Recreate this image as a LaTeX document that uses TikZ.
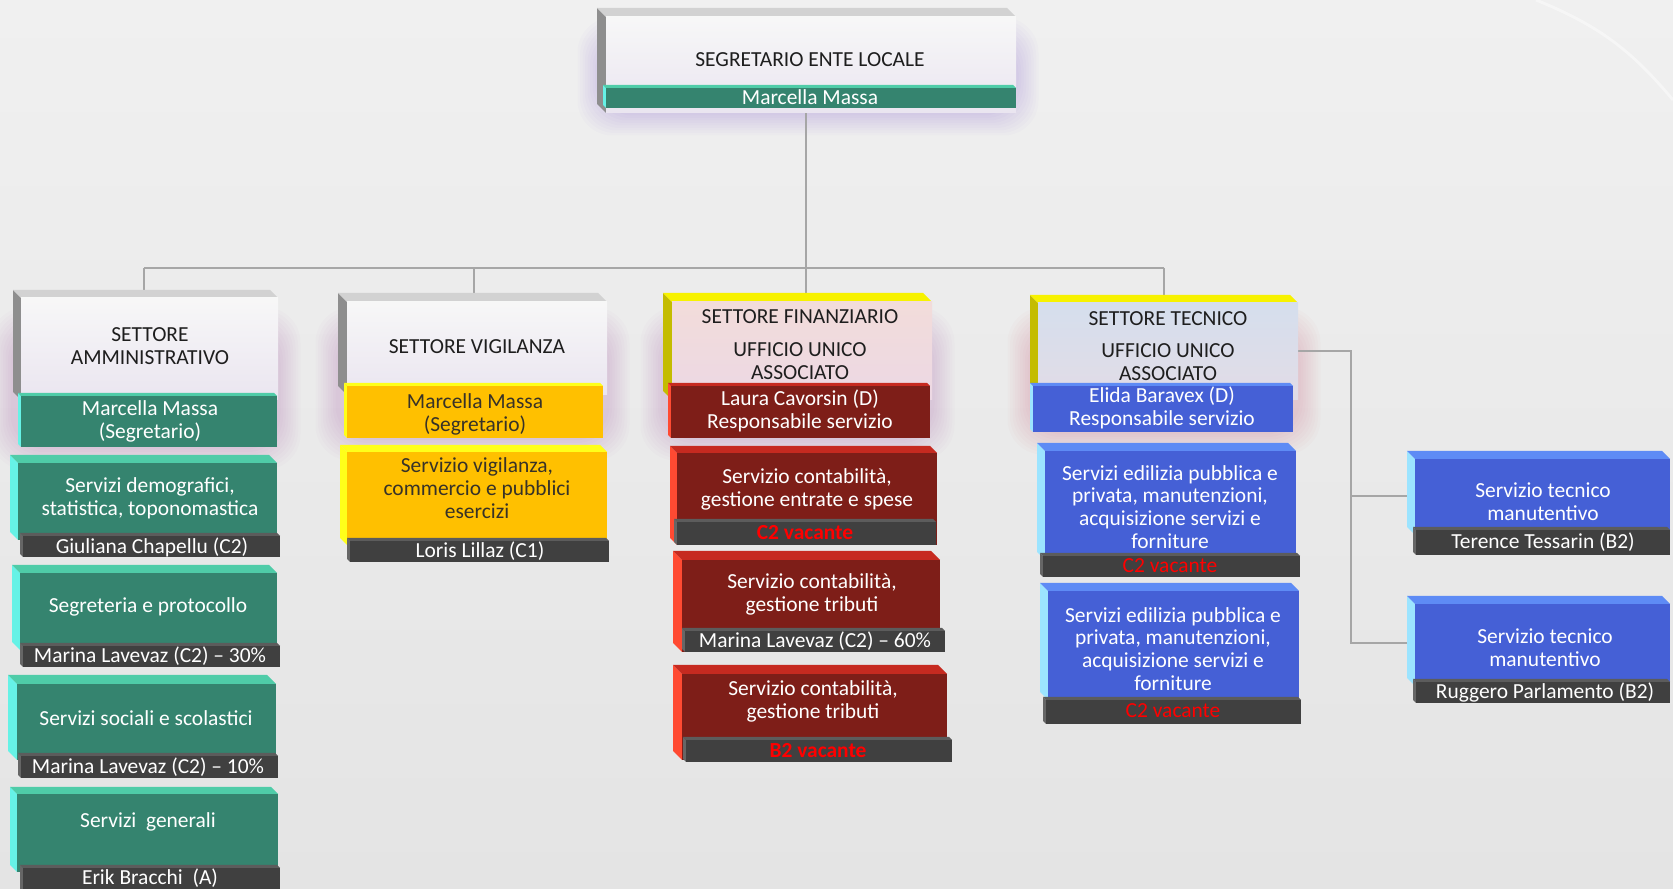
\documentclass[tikz,border=0pt]{standalone}
\usepackage{fontspec}
\setmainfont{Carlito}
\usetikzlibrary{fit}
\pgfdeclarelayer{bg}\pgfdeclarelayer{lines}\pgfsetlayers{bg,lines,main}
% colours
\definecolor{grnFc}{HTML}{35846F}\definecolor{grnT}{HTML}{4FCCA8}\definecolor{grnL}{HTML}{66F2E6}
\definecolor{drkFc}{HTML}{404040}\definecolor{drkT}{HTML}{5C5C5C}\definecolor{drkL}{HTML}{666666}
\definecolor{yelFc}{HTML}{FFC000}\definecolor{yelT}{HTML}{FFFF1A}\definecolor{yelL}{HTML}{FFFF1A}
\definecolor{redFc}{HTML}{7E1E18}\definecolor{redT}{HTML}{C62A20}\definecolor{redL}{HTML}{FF4A32}
\definecolor{bluFc}{HTML}{4560D6}\definecolor{bluT}{HTML}{5E8BF5}\definecolor{bluL}{HTML}{9CE4FF}
\definecolor{hdrT}{HTML}{D2D2D2}\definecolor{hdrL}{HTML}{8E8E8E}
\definecolor{finT}{HTML}{F7F200}\definecolor{finL}{HTML}{C4BC00}
\definecolor{tecT}{HTML}{F7F200}\definecolor{tecL}{HTML}{C4BC00}
\definecolor{vac}{HTML}{FF0000}
\definecolor{conn}{HTML}{A6A6A6}
\tikzset{
  face/.style={inner sep=0pt, outer sep=0pt, draw=none},
  grnF/.style={face, fill=grnFc}, drkF/.style={face, fill=drkFc},
  yelF/.style={face, fill=yelFc}, redF/.style={face, fill=redFc},
  bluF/.style={face, fill=bluFc},
  hdrF/.style={face, top color=white!97!black, bottom color={rgb,255:red,234;green,229;blue,240}},
  finF/.style={face, top color={rgb,255:red,242;green,220;blue,218}, bottom color={rgb,255:red,236;green,216;blue,228}},
  tecF/.style={face, top color={rgb,255:red,213;green,222;blue,237}, bottom color={rgb,255:red,226;green,220;blue,230}},
  txt/.style={align=center, inner sep=0pt, font=\fontsize{6.1}{6.5}\selectfont},
  htxt/.style={txt, text={rgb,255:red,30;green,30;blue,30}},
  wtxt/.style={txt, text=white},
  ytxt/.style={txt, text={rgb,255:red,55;green,50;blue,40}},
  vtxt/.style={txt, text=vac, font=\fontsize{6.1}{6.5}\selectfont\bfseries},
  vntxt/.style={txt, text=vac},
  connline/.style={draw=conn, line width=0.45pt},
}
% #1 name, #2 x1, #3 y1, #4 x2, #5 y2, #6 depth, #7 scheme
\newcommand\cube[7]{%
  \fill[#7L] (#2,#3) -- (#2+#6,#3+#6) -- (#2+#6,#5) -- (#2,#5-#6) -- cycle;
  \fill[#7T] (#2,#3) -- (#4-#6,#3) -- (#4,#3+#6) -- (#2+#6,#3+#6) -- cycle;
  \node[#7F, fit={(#2+#6,#3+#6) (#4,#5)}] (#1) {};
}
\newcommand\glow[5]{%
  \foreach \k in {1,...,9}{\fill[#5, opacity=0.014, rounded corners=10pt] (#1-\k*2.5,#2-\k*2.5) rectangle (#3+\k*2.5,#4+\k*2.5);}
}
\begin{document}
\begin{tikzpicture}[x=0.01cm,y=-0.01cm]
\useasboundingbox (0,0) rectangle (1673,889);
\clip (0,0) rectangle (1673,889);
\begin{pgfonlayer}{bg}
  \shade[top color={rgb,255:red,240;green,240;blue,240}, bottom color={rgb,255:red,228;green,228;blue,228}] (0,0) rectangle (1673,889);
  \draw[white, opacity=0.45, line width=0.8pt] (1536,0) to[bend left=14] (1673,100);
  \glow{600}{40}{1016}{113}{blue!50!violet}
  \glow{13}{330}{278}{447}{violet}
  \glow{338}{330}{607}{438}{violet}
  \glow{663}{330}{932}{438}{violet}
  \glow{1030}{330}{1298}{432}{red!70!violet}
\end{pgfonlayer}

% ---------- top
\cube{top}{597}{8}{1016}{113}{9}{hdr}
\cube{topb}{603}{85}{1016}{108}{3}{grn}
\node[htxt] (topt) at (810,60) {SEGRETARIO ENTE LOCALE};
\node[wtxt] (topn) at (810,97) {Marcella Massa};

% ---------- settore amministrativo
\cube{adm}{13}{290}{278}{400}{8}{hdr}
\node[htxt] (admt) at (150,346) {SETTORE\\AMMINISTRATIVO};
\cube{admb}{18}{393}{277}{447}{3}{grn}
\node[wtxt] (admn) at (150,421) {Marcella Massa\\(Segretario)};

\cube{dem}{10}{455}{277}{540}{8}{grn}
\node[wtxt] (demt) at (150,498) {Servizi demografici,\\statistica, toponomastica};
\cube{demb}{20}{533}{280}{557}{3}{drk}
\node[wtxt] (demn) at (152,547) {Giuliana Chapellu (C2)};

\cube{seg}{12}{565}{277}{650}{8}{grn}
\node[wtxt] (segt) at (148,607) {Segreteria e protocollo};
\cube{segb}{20}{643}{280}{667}{3}{drk}
\node[wtxt] (segn) at (150,656) {Marina Lavevaz (C2) – 30\%};

\cube{soc}{8}{675}{276}{760}{9}{grn}
\node[wtxt] (soct) at (146,718) {Servizi sociali e scolastici};
\cube{socb}{18}{753}{278}{778}{3}{drk}
\node[wtxt] (socn) at (148,767) {Marina Lavevaz (C2) – 10\%};

\cube{gen}{10}{787}{278}{872}{7}{grn}
\node[wtxt] (gent) at (148,822) {Servizi~ generali};
\cube{genb}{20}{865}{280}{895}{3}{drk}
\node[wtxt] (genn) at (150,878) {Erik Bracchi~ (A)};

% ---------- settore vigilanza
\cube{vig}{338}{293}{607}{395}{9}{hdr}
\node[htxt] (vigt) at (477,347) {SETTORE VIGILANZA};
\cube{vigb}{344}{383}{603}{438}{3}{yel}
\node[ytxt] (vign) at (475,414) {Marcella Massa\\(Segretario)};
\cube{svig}{340}{445}{607}{545}{7}{yel}
\node[ytxt] (svigt) at (477,488) {Servizio vigilanza,\\commercio e pubblici\\esercizi};
\cube{svigb}{347}{538}{609}{562}{3}{drk}
\node[wtxt] (svign) at (480,551) {Loris Lillaz (C1)};

% ---------- settore finanziario
\cube{fin}{663}{293}{932}{400}{9}{fin}
\node[htxt] (fint) at (800,317) {SETTORE FINANZIARIO};
\node[htxt] (finu) at (800,361) {UFFICIO UNICO\\ASSOCIATO};
\cube{finb}{668}{383}{930}{438}{3}{red}
\node[wtxt] (finn) at (800,411) {Laura Cavorsin (D)\\Responsabile servizio};

\cube{con1}{670}{446}{937}{545}{7}{red}
\node[wtxt] (con1t) at (807,489) {Servizio contabilità,\\gestione entrate e spese};
\cube{con1b}{674}{519}{936}{545}{3}{drk}
\node[vtxt] (con1n) at (805,533) {C2 vacante};

\cube{con2}{673}{551}{940}{652}{9}{red}
\node[wtxt] (con2t) at (812,594) {Servizio contabilità,\\gestione tributi};
\cube{con2b}{682}{628}{945}{652}{3}{drk}
\node[wtxt] (con2n) at (815,641) {Marina Lavevaz (C2) – 60\%};

\cube{con3}{673}{665}{947}{760}{9}{red}
\node[wtxt] (con3t) at (813,701) {Servizio contabilità,\\gestione tributi};
\cube{con3b}{683}{737}{952}{762}{3}{drk}
\node[vtxt] (con3n) at (818,751) {B2 vacante};

% ---------- settore tecnico
\cube{tec}{1030}{295}{1298}{400}{8}{tec}
\node[htxt] (tect) at (1168,319) {SETTORE TECNICO};
\node[htxt] (tecu) at (1168,362) {UFFICIO UNICO\\ASSOCIATO};
\cube{tecb}{1030}{383}{1293}{432}{3}{blu}
\node[wtxt] (tecn) at (1162,408) {Elida Baravex (D)\\Responsabile servizio};

\cube{edi1}{1037}{443}{1296}{560}{8}{blu}
\node[wtxt] (edi1t) at (1170,507) {Servizi edilizia pubblica e\\privata, manutenzioni,\\acquisizione servizi e\\forniture};
\cube{edi1b}{1040}{553}{1300}{577}{3}{drk}
\node[vntxt] (edi1n) at (1170,566) {C2 vacante};

\cube{edi2}{1040}{583}{1299}{700}{8}{blu}
\node[wtxt] (edi2t) at (1173,649) {Servizi edilizia pubblica e\\privata, manutenzioni,\\acquisizione servizi e\\forniture};
\cube{edi2b}{1043}{697}{1301}{724}{3}{drk}
\node[vntxt] (edi2n) at (1173,711) {C2 vacante};

\cube{st1}{1407}{451}{1670}{535}{8}{blu}
\node[wtxt] (st1t) at (1543,502) {Servizio tecnico\\manutentivo};
\cube{st1b}{1413}{527}{1670}{555}{3}{drk}
\node[wtxt] (st1n) at (1543,542) {Terence Tessarin (B2)};

\cube{st2}{1407}{596}{1670}{686}{8}{blu}
\node[wtxt] (st2t) at (1545,648) {Servizio tecnico\\manutentivo};
\cube{st2b}{1413}{679}{1670}{703}{3}{drk}
\node[wtxt] (st2n) at (1545,693) {Ruggero Parlamento (B2)};

% ---------- connectors
\coordinate (jL) at (144,268);
\coordinate (jV) at (474,268);
\coordinate (jC) at (806,268);
\coordinate (jR) at (1164,268);
\coordinate (rK) at (1351,351);
\coordinate (r1) at (1351,496);
\coordinate (r2) at (1351,643);
\begin{pgfonlayer}{lines}
  \draw[connline] (jC |- top.center) -- (jC |- fin.center);
  \draw[connline] (jL) -- (jR);
  \draw[connline] (jL) -- (jL |- adm.center);
  \draw[connline] (jV) -- (jV |- vig.center);
  \draw[connline] (jR) -- (jR |- tec.center);
  \draw[connline] (tec.center |- rK) -- (rK) -- (r2) -- (st2.center |- r2);
  \draw[connline] (r1) -- (st1.center |- r1);
\end{pgfonlayer}
\end{tikzpicture}
\end{document}
